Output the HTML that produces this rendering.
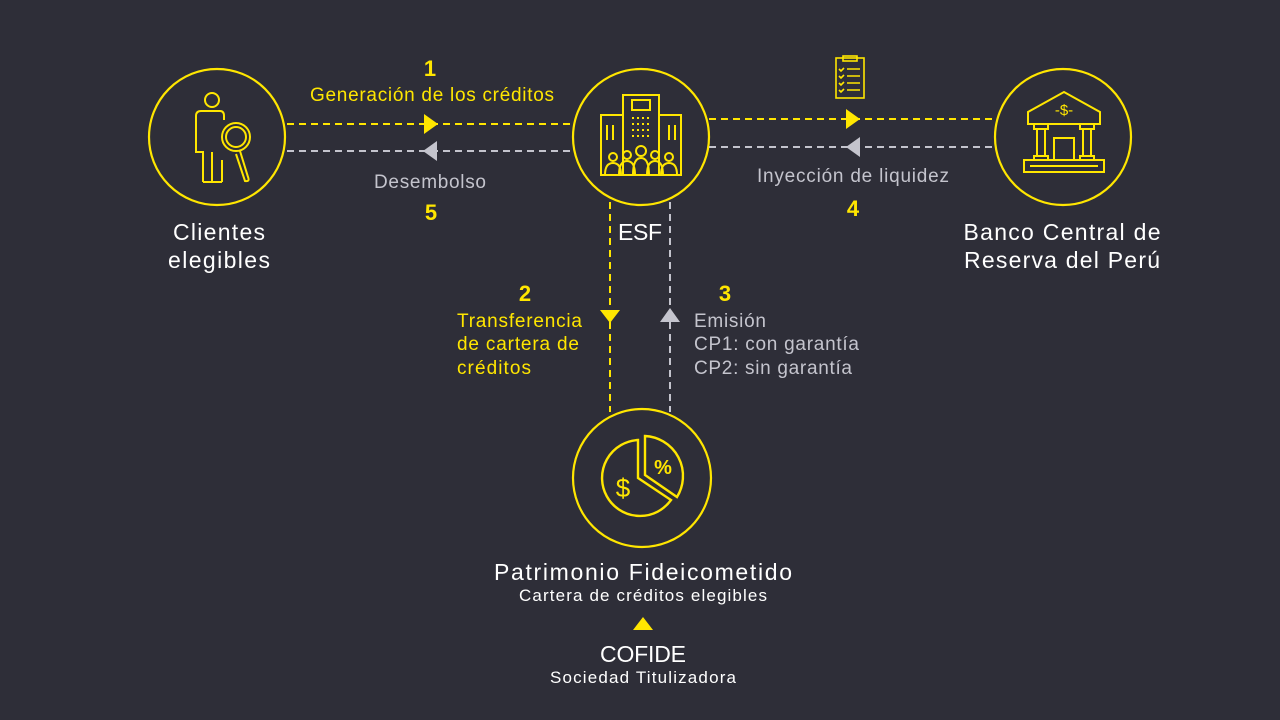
<!DOCTYPE html>
<html><head><meta charset="utf-8"><style>
html,body{margin:0;padding:0;background:#2e2e38;}
svg{display:block;font-family:"Liberation Sans",sans-serif;}
</style></head><body>
<svg width="1280" height="720" viewBox="0 0 1280 720">
<rect width="1280" height="720" fill="#2e2e38"/>
<g fill="none" stroke-width="2.2">
<circle cx="217" cy="137" r="68" stroke="#ffe600"/>
<circle cx="641" cy="137" r="68" stroke="#ffe600"/>
<circle cx="1063" cy="137" r="68" stroke="#ffe600"/>
<circle cx="642" cy="478" r="69" stroke="#ffe600"/>
</g>
<g stroke-width="2" stroke-dasharray="7,5" fill="none">
<line x1="287" y1="124" x2="572" y2="124" stroke="#ffe600"/>
<line x1="287" y1="151" x2="572" y2="151" stroke="#c4c4cd"/>
<line x1="709" y1="119" x2="995" y2="119" stroke="#ffe600"/>
<line x1="709" y1="147" x2="995" y2="147" stroke="#c4c4cd"/>
<line x1="610" y1="202" x2="610" y2="412" stroke="#ffe600"/>
<line x1="670" y1="202" x2="670" y2="412" stroke="#c4c4cd"/>
</g>
<polygon points="424,114 438,124 424,134" fill="#ffe600"/>
<polygon points="437,141 423,151 437,161" fill="#c4c4cd"/>
<polygon points="846,109 860,119 846,129" fill="#ffe600"/>
<polygon points="860,137 846,147 860,157" fill="#c4c4cd"/>
<polygon points="600,310 620,310 610,323" fill="#ffe600"/>
<polygon points="660,322 680,322 670,308" fill="#c4c4cd"/>
<polygon points="633,630 653,630 643,617" fill="#ffe600"/>
<!-- person icon -->
<g fill="none" stroke="#ffe600" stroke-width="2">
<circle cx="212" cy="100" r="7"/>
<path d="M203 182 V152 H196 V116 Q196 111 201 111 H220 Q224 111 224 116 V120"/>
<path d="M212 182 V152 M222 182 V160"/>
<line x1="203" y1="182" x2="222" y2="182"/>
<circle cx="236" cy="137" r="14"/><circle cx="236" cy="137" r="10"/>
<path d="M240 151 L248 177 Q250 182 245 181 L236 154"/>
</g>
<!-- ESF building icon -->
<g fill="none" stroke="#ffe600" stroke-width="2">
<rect x="623" y="95" width="36" height="80"/>
<rect x="632" y="100" width="18" height="10"/>
<rect x="601" y="115" width="22" height="60"/>
<rect x="659" y="115" width="22" height="60"/>
<path d="M607 125 V140 M613 125 V140 M669 125 V140 M675 125 V140"/>
<circle cx="613" cy="157" r="4"/><circle cx="627" cy="155" r="4"/><circle cx="641" cy="151" r="5"/><circle cx="655" cy="155" r="4"/><circle cx="669" cy="157" r="4"/>
<path d="M605 175 Q605 163 613 163 Q621 163 621 175 M619 175 Q619 161 627 161 Q635 161 635 175 M633 175 Q633 158 641 158 Q649 158 649 175 M647 175 Q647 161 655 161 Q663 161 663 175 M661 175 Q661 163 669 163 Q677 163 677 175"/>
</g>
<g fill="#ffe600">
<rect x="632" y="117" width="2" height="2"/><rect x="637" y="117" width="2" height="2"/><rect x="642" y="117" width="2" height="2"/><rect x="647" y="117" width="2" height="2"/>
<rect x="632" y="123" width="2" height="2"/><rect x="637" y="123" width="2" height="2"/><rect x="642" y="123" width="2" height="2"/><rect x="647" y="123" width="2" height="2"/>
<rect x="632" y="129" width="2" height="2"/><rect x="637" y="129" width="2" height="2"/><rect x="642" y="129" width="2" height="2"/><rect x="647" y="129" width="2" height="2"/>
<rect x="632" y="135" width="2" height="2"/><rect x="637" y="135" width="2" height="2"/><rect x="642" y="135" width="2" height="2"/><rect x="647" y="135" width="2" height="2"/>
</g>
<!-- clipboard -->
<g fill="none" stroke="#ffe600" stroke-width="1.6">
<rect x="836" y="58" width="28" height="40"/>
<rect x="843" y="56" width="14" height="5"/>
<path d="M839 69 l2 2 3 -3 M839 76 l2 2 3 -3 M839 83 l2 2 3 -3 M839 90 l2 2 3 -3 M847 69 H860 M847 76 H860 M847 83 H860 M847 90 H860"/>
</g>
<!-- bank -->
<g fill="none" stroke="#ffe600" stroke-width="2">
<path d="M1028 124 V112 L1064 92 L1100 112 V124 Z"/>
<rect x="1034" y="124" width="14" height="5"/><rect x="1080" y="124" width="14" height="5"/>
<path d="M1037 129 V156 M1045 129 V156 M1083 129 V156 M1091 129 V156"/>
<rect x="1034" y="156" width="14" height="4"/><rect x="1080" y="156" width="14" height="4"/>
<rect x="1054" y="138" width="20" height="22"/>
<rect x="1024" y="160" width="80" height="12"/>
<line x1="1030" y1="166" x2="1098" y2="166"/>
</g>
<text x="1064" y="115" fill="#ffe600" font-size="15" text-anchor="middle">-$-</text>
<!-- pie -->
<g fill="none" stroke="#ffe600" stroke-width="2.4">
<path d="M638 440 A38 38 0 1 0 671 500 L638 478 Z"/>
<path d="M645 436 A40 40 0 0 1 677 497 L645 475 Z"/>
</g>
<text x="623" y="497" fill="#ffe600" font-size="26" text-anchor="middle">$</text>
<text x="663" y="474" fill="#ffe600" font-size="20" font-weight="bold" text-anchor="middle">%</text>
<!-- labels -->
<g font-size="22" font-weight="bold" fill="#ffe600" text-anchor="middle">
<text x="430" y="76">1</text><text x="431" y="220">5</text>
<text x="853" y="216">4</text><text x="525" y="301">2</text><text x="725" y="301">3</text>
</g>
<text x="432" y="101" fill="#ffe600" font-size="19" text-anchor="middle" textLength="244">Generación de los créditos</text>
<text x="430" y="188" fill="#c4c4cd" font-size="19" text-anchor="middle" textLength="112">Desembolso</text>
<text x="853" y="182" fill="#c4c4cd" font-size="19" text-anchor="middle" textLength="192">Inyección de liquidez</text>
<g fill="#ffe600" font-size="19">
<text x="457" y="327" textLength="125">Transferencia</text>
<text x="457" y="350" textLength="122">de cartera de</text>
<text x="457" y="374" textLength="74">créditos</text>
</g>
<g fill="#c4c4cd" font-size="19">
<text x="694" y="327" textLength="72">Emisión</text>
<text x="694" y="350" textLength="165">CP1: con garantía</text>
<text x="694" y="374" textLength="158">CP2: sin garantía</text>
</g>
<g fill="#ffffff" font-size="23" text-anchor="middle">
<text x="219" y="240" textLength="92">Clientes</text>
<text x="219" y="268" textLength="102">elegibles</text>
<text x="640" y="240" textLength="44">ESF</text>
<text x="1062" y="240" textLength="197">Banco Central de</text>
<text x="1062" y="268" textLength="196">Reserva del Perú</text>
<text x="643" y="580" textLength="298">Patrimonio Fideicometido</text>
<text x="643" y="662" textLength="86">COFIDE</text>
</g>
<g fill="#ffffff" font-size="17" text-anchor="middle">
<text x="643" y="601" textLength="248">Cartera de créditos elegibles</text>
<text x="643" y="683" textLength="186">Sociedad Titulizadora</text>
</g>
</svg>
</body></html>
